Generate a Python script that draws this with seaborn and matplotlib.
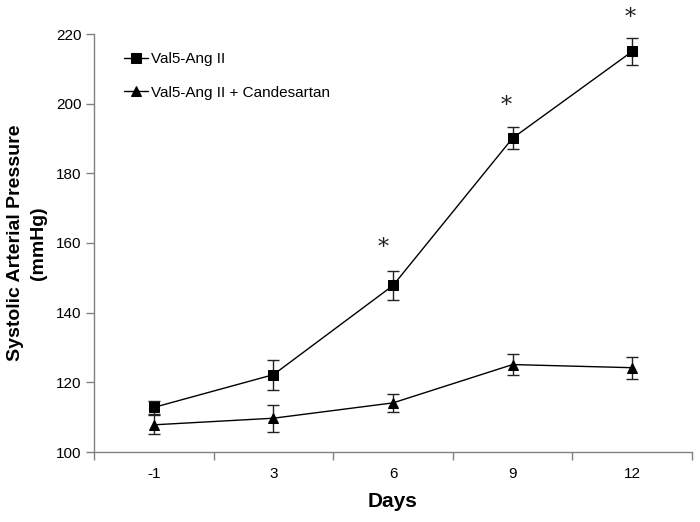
import numpy as np
import pandas as pd
import matplotlib
matplotlib.use("Agg")
import matplotlib.pyplot as plt
import seaborn as sns

days = ["-1", "3", "6", "9", "12"]
val_mean = [112.8, 122.2, 147.8, 190.1, 215.0]
val_err = [1.9, 4.3, 4.2, 3.1, 3.8]
cand_mean = [107.8, 109.7, 114.1, 125.1, 124.2]
cand_err = [2.7, 3.9, 2.5, 3.0, 3.1]
sig_days = ["6", "9", "12"]
sig_y = [158.7, 199.2, 224.7]
sig_xoff = [-0.08, -0.05, -0.02]
series_names = ["Val5-Ang II", "Val5-Ang II + Candesartan"]

sns.set_theme(style="white")
plt.rcParams["font.family"] = ["Liberation Sans", "DejaVu Sans"]
plt.rcParams["text.color"] = "black"
plt.rcParams["axes.labelcolor"] = "black"
plt.rcParams["xtick.color"] = "black"
plt.rcParams["ytick.color"] = "black"

pos = np.arange(len(days))
df = pd.DataFrame({
    "pos": np.concatenate([pos, pos]),
    "value": val_mean + cand_mean,
    "series": [series_names[0]] * len(days) + [series_names[1]] * len(days),
})

fig = plt.figure(figsize=(7.0, 5.22), dpi=100)
ax = fig.add_axes([94 / 700, 70 / 522, 598 / 700, 418 / 522])

for m, e in [(val_mean, val_err), (cand_mean, cand_err)]:
    ax.errorbar(pos, m, yerr=e, fmt="none", ecolor="#222222",
                elinewidth=1.0, capsize=4, capthick=1.0, zorder=2)

sns.lineplot(data=df, x="pos", y="value", hue="series", style="series",
             markers={series_names[0]: "s", series_names[1]: "^"},
             dashes=False, palette=["black", "black"], linewidth=1.0,
             markersize=7, markeredgecolor="black", ax=ax, zorder=3,
             legend=True)

for d, yv, xo in zip(sig_days, sig_y, sig_xoff):
    i = days.index(d)
    ax.text(i + xo, yv, "*", ha="center", va="center", fontsize=16,
            family="DejaVu Serif", color="#222222", clip_on=False)

ax.set_xlim(-0.5, len(days) - 0.5)
ax.set_ylim(100, 220)
ax.set_yticks(np.arange(100, 221, 20))
ax.set_xticks(pos)
ax.set_xticklabels(days)
ax.set_xticks(np.arange(-0.5, len(days), 1.0), minor=True)
ax.tick_params(axis="x", which="major", length=0, pad=11, labelsize=11, labelcolor="black")
ax.tick_params(axis="x", which="minor", length=6, width=1, color="#808080", direction="out", bottom=True)
ax.tick_params(axis="y", which="major", length=6, width=1, color="#808080", direction="out", left=True,
               labelsize=11, pad=3, labelcolor="black")

for s in ["top", "right"]:
    ax.spines[s].set_visible(False)
for s in ["left", "bottom"]:
    ax.spines[s].set_color("#808080")
    ax.spines[s].set_linewidth(1.0)

ax.set_xlabel("Days", fontsize=15, fontweight="bold", labelpad=8, color="black")
ax.set_ylabel("Systolic Arterial Pressure\n(mmHg)", fontsize=14, fontweight="bold",
              color="black", linespacing=1.45)
ax.yaxis.label.set_va("center")
ax.yaxis.set_label_coords((27 - 94) / 598, 0.5)

leg = ax.legend(loc="upper left", bbox_to_anchor=(0.027, 0.99), frameon=False,
                fontsize=11, handlelength=1.6, handletextpad=0.2, labelspacing=1.3)
for t in leg.get_texts():
    t.set_color("black")

fig.savefig("out.png", dpi=100)
